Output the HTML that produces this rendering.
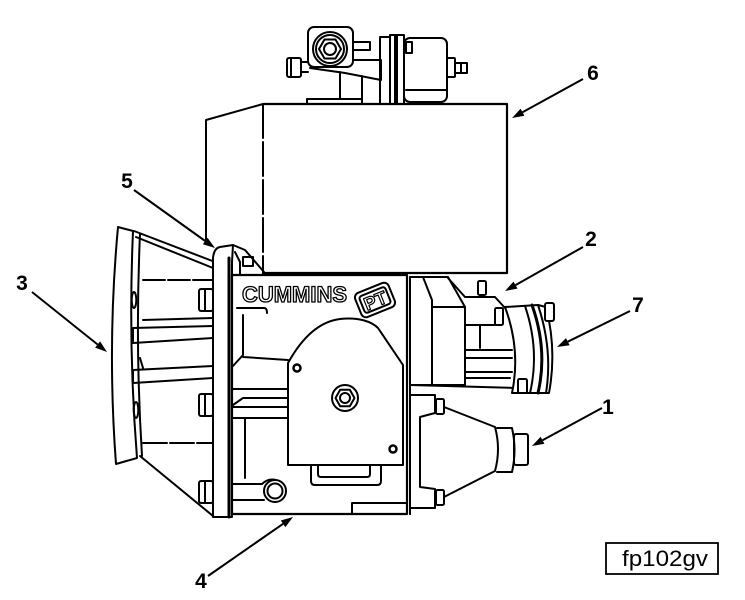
<!DOCTYPE html>
<html>
<head>
<meta charset="utf-8">
<style>
html,body{margin:0;padding:0;background:#fff;}
svg{display:block;}
</style>
</head>
<body>
<svg width="745" height="600" viewBox="0 0 745 600" xmlns="http://www.w3.org/2000/svg">
<rect width="745" height="600" fill="#fff"/>
<g fill="none" stroke="#000" stroke-width="2" stroke-linejoin="round" stroke-linecap="round">

<!-- ===== Top valve assembly ===== -->
<rect x="307" y="99" width="55" height="5"/>
<path d="M340,72 L340,99 M362,76 L362,99"/>
<path d="M352,60 L381,60 L381,80 L345,73 L310,68"/>
<rect x="308" y="27" width="45" height="40" rx="6" fill="#fff"/>
<circle cx="330" cy="49" r="17"/>
<circle cx="330" cy="49" r="14"/>
<polygon points="341,49 335.5,58.5 324.5,58.5 319,49 324.5,39.5 335.5,39.5"/>
<circle cx="330" cy="49" r="6"/>
<rect x="287" y="58" width="14" height="19" rx="2"/>
<path d="M291,58 L291,77 M301,62 L308,62 M301,72 L308,72"/>
<rect x="353" y="42" width="17" height="8"/>
<rect x="380" y="37" width="10" height="67"/>
<rect x="390" y="35" width="14" height="69"/>
<path d="M396,36 L396,103" stroke-width="4"/>
<rect x="404" y="38" width="43" height="64" rx="6"/>
<path d="M406,90 L446,90"/>
<rect x="406" y="42" width="6" height="11"/>
<rect x="447" y="58" width="8" height="19" rx="1"/>
<rect x="455" y="63" width="12" height="10"/>
<path d="M461,64 L461,72"/>

<!-- ===== Box 6 ===== -->
<path d="M263,104 L507,104 L507,273 L263,273" stroke-width="2.2"/>
<path d="M263,104 L206,120 L206,241"/>
<path d="M263,104 L263,273" stroke-dasharray="34 4"/>

<!-- ===== Left adapter (3) ===== -->
<path d="M118,227 L133,231 Q128,345 137,458 L116,464 Q107,345 118,227 Z" fill="#fff"/>
<path d="M140,234 Q135,345 142,456"/>
<path d="M134,231 L215,262 M136,237 L213,268"/>
<path d="M140,456 L213,516"/>
<path d="M143,280 L213,280" stroke-dasharray="22 3"/>
<path d="M143,320 L213,318"/>
<path d="M133,328 L213,326 M133,343 L213,338 M133,328 L133,343"/>
<path d="M133,370 L213,366 M133,383 L213,378 M133,370 L133,383"/>
<path d="M140,358 L143,368"/>
<path d="M143,443 L213,443" stroke-dasharray="24 3"/>
<ellipse cx="134" cy="300" rx="2.3" ry="8"/>
<ellipse cx="136" cy="410" rx="2.3" ry="8"/>

<!-- bolts between adapter and plate -->
<rect x="199" y="289" width="14" height="22" rx="2" fill="#fff"/>
<path d="M205,289 L205,311"/>
<rect x="199" y="394" width="14" height="22" rx="2" fill="#fff"/>
<path d="M205,394 L205,416"/>
<rect x="199" y="481" width="14" height="22" rx="2" fill="#fff"/>
<path d="M205,481 L205,503"/>

<!-- ===== Plate (5) ===== -->
<path d="M213,517 L213,258 Q214,248 220,247 L233,245 L232,262 L232,517 Z" fill="#fff"/>
<path d="M229,258 L229,517" stroke-width="3"/>
<path d="M233,245 L245,250 L264,272"/>
<path d="M235,252 L240,262 L240,274"/>
<rect x="243" y="257" width="10" height="9"/>

<!-- ===== Main body ===== -->
<rect x="232" y="275" width="175" height="239" stroke-width="2.2"/>
<path d="M410,277 L410,514"/>
<text x="242" y="302" font-family="Liberation Sans, sans-serif" font-size="22" font-weight="bold" fill="#fff" stroke="#000" stroke-width="1.3" textLength="105" lengthAdjust="spacingAndGlyphs">CUMMINS</text>
<g transform="translate(375,300) rotate(-22)">
<rect x="-18" y="-13" width="36" height="26" rx="5"/>
<rect x="-14" y="-9" width="28" height="18" rx="3"/>
<text x="0" y="7" text-anchor="middle" font-family="Liberation Sans, sans-serif" font-size="18" font-weight="bold" fill="#fff" stroke="#000" stroke-width="1.2">PT</text>
</g>
<path d="M237,308 L264,308 Q267,308 267,313"/>
<path d="M243,315 L243,355 L233,366 M243,357 L288,360"/>
<path d="M233,389 L288,389 M233,405 L243,398 L288,398 M233,407 L288,407 M233,418 L288,418"/>
<path d="M245,418 L245,478"/>
<path d="M233,484 L262,484 Q268,478 276,480"/>
<path d="M233,500 L264,500"/>
<circle cx="275" cy="491" r="11"/>
<circle cx="275" cy="491" r="7.5"/>

<!-- governor cover -->
<path d="M288,465 L288,363 C298,345 315,322 340,319 C360,317 372,322 378,328 L403,365 L403,465 Z" fill="#fff"/>
<circle cx="297" cy="368" r="3.5" stroke-width="2.5"/>
<circle cx="393" cy="449" r="3.5" stroke-width="2.5"/>
<circle cx="345" cy="398" r="13"/>
<polygon points="354.5,398 349.8,406.2 340.2,406.2 335.5,398 340.2,389.8 349.8,389.8"/>
<circle cx="345" cy="398" r="5"/>
<path d="M311,465 L311,481 Q311,485 315,485 L377,485 Q381,485 381,481 L381,465"/>
<path d="M318,465 L318,474 Q318,477 321,477 L367,477 Q370,477 370,474 L370,465"/>
<path d="M352,514 L352,503 L406,503"/>

<!-- ===== Right upper assembly ===== -->
<path d="M410,277 L448,277 L465,307 L465,385 L410,385"/>
<path d="M423,277 L432,300 L432,385 M432,307 L465,307"/>
<path d="M448,278 L465,297 L495,297 L505,308"/>
<rect x="478" y="281" width="8" height="14" rx="1.5" fill="#fff"/>
<rect x="495" y="308" width="8" height="17" rx="1.5" fill="#fff"/>
<path d="M465,325 L495,325 M480,325 L480,348"/>
<path d="M465,350 L512,350 M465,358 L512,358 M465,372 L512,372 M465,378 L510,378"/>
<path d="M410,385 L518,388"/>
<!-- disk 7 -->
<path d="M505,307 L538,305 Q553,350 546,393 L512,393 Q521,350 505,307 Z" fill="#fff"/>
<path d="M525,306 Q540,350 530,393"/>
<path d="M532,305 Q548,350 538,393" stroke-width="3"/>
<path d="M538,305 L546,307 Q557,350 549,393 L538,393"/>
<rect x="545" y="303" width="9" height="18" rx="2" fill="#fff"/>
<rect x="518" y="379" width="9" height="14" rx="1.5" fill="#fff"/>

<!-- ===== Lower assembly (1) ===== -->
<path d="M410,390 L410,514"/>
<path d="M410,395 L435,395 L435,413 L420,417 L420,487 L435,489 L435,508 L410,508"/>
<rect x="436" y="399" width="8" height="15" rx="1.5"/>
<rect x="436" y="490" width="8" height="15" rx="1.5"/>
<path d="M444,407 L495,427 Q501,449 495,471 L444,497"/>
<path d="M497,428 L512,428 Q517,450 512,472 L497,472"/>
<rect x="514" y="434" width="14" height="31" rx="2"/>
</g>

<!-- ===== Callout arrows ===== -->
<g stroke="#000" stroke-width="2" fill="none">
<line x1="583" y1="79" x2="522.5" y2="112.2"/>
<line x1="134" y1="190" x2="205.2" y2="241"/>
<line x1="583" y1="247" x2="515.5" y2="285.1"/>
<line x1="32" y1="292" x2="97.6" y2="344.5"/>
<line x1="208" y1="576" x2="283.1" y2="523.8"/>
<line x1="630" y1="311" x2="567.8" y2="341.7"/>
<line x1="602" y1="408" x2="542.5" y2="440.3"/>
</g>
<g fill="#000">
<polygon points="512,118 524.4,115.7 520.6,108.7"/>
<polygon points="215,248 202.9,244.3 207.5,237.7"/>
<polygon points="505,291 517.5,288.6 513.5,281.6"/>
<polygon points="107,352 95.1,347.6 100.1,341.4"/>
<polygon points="293,517 285.4,527.1 280.8,520.5"/>
<polygon points="557,347 569.6,345.3 566,338.1"/>
<polygon points="532,446 544.4,443.8 540.6,436.8"/>
</g>
<g font-family="Liberation Sans, sans-serif" font-size="21" font-weight="bold" fill="#000" text-anchor="middle">
<text x="593" y="80">6</text>
<text x="127" y="188">5</text>
<text x="591" y="246">2</text>
<text x="22" y="290">3</text>
<text x="201" y="588">4</text>
<text x="638" y="312">7</text>
<text x="608" y="414">1</text>
</g>

<!-- figure id box -->
<rect x="606" y="543" width="112" height="31" fill="#fff" stroke="#000" stroke-width="1.8"/>
<text x="622" y="566" font-family="Liberation Sans, sans-serif" font-size="22" fill="#000" textLength="86" lengthAdjust="spacingAndGlyphs">fp102gv</text>
</svg>
</body>
</html>
